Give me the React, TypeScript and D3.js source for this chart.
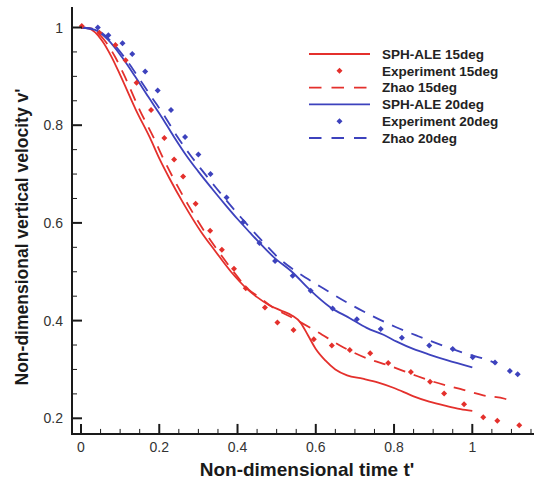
import React from "react";
import * as d3 from "d3";

// ---- Data ----
const xTicks = [0, 0.2, 0.4, 0.6, 0.8, 1];
const yTicks = [0.2, 0.4, 0.6, 0.8, 1];

const sphAle15T = [0, 0.02, 0.053, 0.078, 0.1, 0.1405, 0.1764, 0.2019, 0.2249, 0.2632, 0.3066, 0.3424, 0.3833, 0.4242, 0.45, 0.48, 0.51, 0.54, 0.56, 0.58, 0.6, 0.625, 0.65, 0.68, 0.72, 0.76, 0.8, 0.85, 0.89, 0.935, 0.97, 1.0];
const sphAle15V = [1, 0.998, 0.974, 0.94, 0.903, 0.831, 0.774, 0.729, 0.693, 0.638, 0.582, 0.543, 0.5, 0.465, 0.448, 0.432, 0.421, 0.41, 0.397, 0.37, 0.342, 0.318, 0.3, 0.288, 0.281, 0.273, 0.262, 0.245, 0.234, 0.225, 0.219, 0.215];

const exp15T = [0.002, 0.047, 0.088, 0.114, 0.142, 0.179, 0.213, 0.238, 0.261, 0.293, 0.33, 0.36, 0.391, 0.421, 0.47, 0.502, 0.543, 0.595, 0.641, 0.687, 0.739, 0.785, 0.843, 0.892, 0.928, 0.979, 1.028, 1.064, 1.12];
const exp15V = [1.003, 0.989, 0.964, 0.933, 0.887, 0.831, 0.774, 0.73, 0.695, 0.639, 0.584, 0.545, 0.506, 0.466, 0.427, 0.396, 0.381, 0.362, 0.349, 0.34, 0.333, 0.313, 0.295, 0.275, 0.251, 0.229, 0.202, 0.195, 0.186];

const zhao15T = [0, 0.025, 0.06, 0.087, 0.11, 0.15, 0.186, 0.212, 0.235, 0.273, 0.316, 0.35, 0.388, 0.425, 0.455, 0.491, 0.549, 0.604, 0.671, 0.73, 0.79, 0.847, 0.9, 0.969, 1.028, 1.083, 1.094];
const zhao15V = [1, 0.998, 0.974, 0.94, 0.903, 0.831, 0.774, 0.729, 0.693, 0.638, 0.582, 0.543, 0.502, 0.466, 0.448, 0.427, 0.402, 0.377, 0.345, 0.323, 0.307, 0.29, 0.275, 0.26, 0.247, 0.24, 0.237];

const sphAle20T = [0, 0.036, 0.07, 0.104, 0.138, 0.172, 0.206, 0.237, 0.27, 0.3, 0.335, 0.37, 0.4, 0.432, 0.46, 0.491, 0.543, 0.585, 0.636, 0.687, 0.73, 0.773, 0.807, 0.849, 0.892, 0.935, 1.0];
const sphAle20V = [1, 0.995, 0.974, 0.94, 0.9, 0.858, 0.817, 0.777, 0.737, 0.705, 0.67, 0.636, 0.608, 0.58, 0.556, 0.531, 0.497, 0.463, 0.428, 0.405, 0.385, 0.371, 0.357, 0.342, 0.33, 0.319, 0.304];

const exp20T = [0.043, 0.07, 0.106, 0.131, 0.164, 0.196, 0.23, 0.266, 0.3, 0.331, 0.372, 0.415, 0.456, 0.496, 0.541, 0.587, 0.643, 0.705, 0.766, 0.82, 0.89, 0.95, 1.001, 1.058, 1.096, 1.116];
const exp20V = [1.0, 0.984, 0.968, 0.946, 0.91, 0.871, 0.831, 0.776, 0.74, 0.7, 0.652, 0.602, 0.559, 0.522, 0.492, 0.461, 0.425, 0.403, 0.383, 0.365, 0.349, 0.342, 0.325, 0.314, 0.297, 0.29];

const zhao20T = [0, 0.04, 0.075, 0.11, 0.145, 0.18, 0.215, 0.245, 0.28, 0.31, 0.345, 0.38, 0.41, 0.44, 0.47, 0.5, 0.54, 0.58, 0.621, 0.682, 0.743, 0.804, 0.862, 0.924, 0.981, 1.041, 1.062];
const zhao20V = [1, 0.995, 0.973, 0.94, 0.9, 0.858, 0.817, 0.778, 0.738, 0.707, 0.672, 0.638, 0.61, 0.583, 0.557, 0.532, 0.506, 0.485, 0.465, 0.436, 0.41, 0.387, 0.368, 0.349, 0.333, 0.319, 0.312];

const legendLabels = ["SPH-ALE 15deg", "Experiment 15deg", "Zhao 15deg", "SPH-ALE 20deg", "Experiment 20deg", "Zhao 20deg"];

const RED = "#e4302c";
const BLUE = "#3d42bd";
const AXIS = "#1a1a1a";
const FONT = "'Liberation Sans', Arial, Helvetica, sans-serif";

export default function App() {
  const W = 534, H = 484;
  const x = d3.scaleLinear().domain([0, 1]).range([81, 472.3]);
  const y = d3.scaleLinear().domain([0.2, 1]).range([418.3, 27.5]);
  const axX0 = x(-0.023);
  const axY0 = y(0.168);
  const axXEnd = Math.min(W, x(1.16));
  const axYTop = y(1.042);

  const zip = (t: number[], v: number[]) => t.map((d, i) => [d, v[i]] as [number, number]);
  const line = d3.line<[number, number]>().x(d => x(d[0])).y(d => y(d[1])).curve(d3.curveMonotoneX);
  const diamond = d3.symbol().type(d3.symbolSquare).size(18)() as string;

  const minorX = d3.range(0, 1.16, 0.05).filter(v => Math.abs(v / 0.2 - Math.round(v / 0.2)) > 1e-6);
  const minorY = d3.range(0.2, 1.001, 0.05).filter(v => Math.abs(v / 0.2 - Math.round(v / 0.2)) > 1e-6);

  const lines = [
    { d: zip(sphAle15T, sphAle15V), c: RED, dash: undefined },
    { d: zip(zhao15T, zhao15V), c: RED, dash: "12,9" },
    { d: zip(sphAle20T, sphAle20V), c: BLUE, dash: undefined },
    { d: zip(zhao20T, zhao20V), c: BLUE, dash: "12,9" },
  ];
  const pts = [
    { d: zip(exp15T, exp15V), c: RED },
    { d: zip(exp20T, exp20V), c: BLUE },
  ];

  const legend = [
    { type: "line", c: RED, dash: undefined },
    { type: "pt", c: RED },
    { type: "line", c: RED, dash: "12.5,10" },
    { type: "line", c: BLUE, dash: undefined },
    { type: "pt", c: BLUE },
    { type: "line", c: BLUE, dash: "12.5,10" },
  ];
  const legY0 = 54, legDy = 16.8;

  return (
    <svg width={W} height={H} style={{ position: "absolute", left: 0, top: 0, background: "#fff" }} fontFamily={FONT}>
      <rect x={0} y={0} width={W} height={H} fill="#fff" />
      {/* data lines */}
      {lines.map((l, i) => (
        <path key={i} d={line(l.d) as string} fill="none" stroke={l.c} strokeWidth={1.8} strokeDasharray={l.dash} />
      ))}
      {pts.map((p, i) => (
        <g key={i} fill={p.c}>
          {p.d.map((d, j) => (
            <path key={j} d={diamond} transform={`translate(${x(d[0])},${y(d[1])}) rotate(45)`} />
          ))}
        </g>
      ))}
      {/* axes */}
      <line x1={axX0} x2={axX0} y1={axYTop} y2={axY0 + 1} stroke={AXIS} strokeWidth={2} />
      <line x1={axX0 - 1} x2={axXEnd} y1={axY0} y2={axY0} stroke={AXIS} strokeWidth={2} />
      {xTicks.map(t => (
        <g key={"xt" + t}>
          <line x1={x(t)} x2={x(t)} y1={axY0} y2={axY0 - 10} stroke={AXIS} strokeWidth={2} />
          <text x={x(t)} y={452} textAnchor="middle" fontSize={14} fill="#333">{d3.format("~g")(t)}</text>
        </g>
      ))}
      {minorX.map(t => (
        <line key={"xm" + t} x1={x(t)} x2={x(t)} y1={axY0} y2={axY0 - 5} stroke={AXIS} strokeWidth={1} />
      ))}
      {yTicks.map(t => (
        <g key={"yt" + t}>
          <line x1={axX0} x2={axX0 + 10} y1={y(t)} y2={y(t)} stroke={AXIS} strokeWidth={2} />
          <text x={63} y={y(t)} dy="0.36em" textAnchor="end" fontSize={14} fill="#333">{d3.format("~g")(t)}</text>
        </g>
      ))}
      {minorY.map(t => (
        <line key={"ym" + t} x1={axX0} x2={axX0 + 5} y1={y(t)} y2={y(t)} stroke={AXIS} strokeWidth={1} />
      ))}
      {/* axis titles */}
      <text x={307} y={476} textAnchor="middle" fontSize={19} fontWeight="bold" fill="#1a1a1a">Non-dimensional time t'</text>
      <text transform="translate(28,237) rotate(-90)" textAnchor="middle" fontSize={17.5} fontWeight="bold" fill="#1a1a1a">Non-dimensional vertical velocity v'</text>
      {/* legend */}
      {legend.map((l, i) => {
        const cy = legY0 + i * legDy;
        return (
          <g key={"lg" + i}>
            {l.type === "line" ? (
              <line x1={309} x2={370} y1={cy} y2={cy} stroke={l.c} strokeWidth={1.8} strokeDasharray={l.dash} />
            ) : (
              <path d={diamond} transform={`translate(339.5,${cy}) rotate(45)`} fill={l.c} />
            )}
            <text x={382} y={cy} dy="0.36em" fontSize={13.5} fontWeight="bold" fill="#222">{legendLabels[i]}</text>
          </g>
        );
      })}
    </svg>
  );
}
